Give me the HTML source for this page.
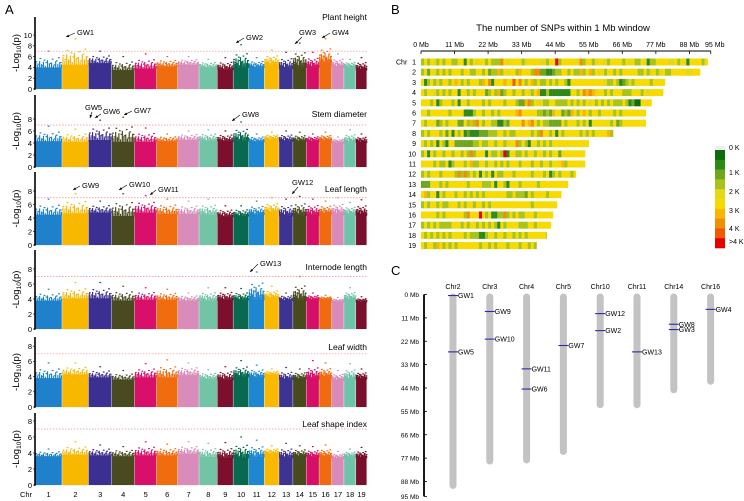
<!DOCTYPE html>
<html><head><meta charset="utf-8"><style>
html,body{margin:0;padding:0;background:#fff}
svg{display:block;font-family:"Liberation Sans",Arial,sans-serif}
</style></head><body>
<svg id="fig" width="744" height="501" viewBox="0 0 744 501" xmlns="http://www.w3.org/2000/svg">
<text x="5" y="14" font-size="13">A</text>
<text x="391" y="14" font-size="13">B</text>
<text x="391" y="275" font-size="13">C</text>
<text x="563" y="31" font-size="9.5" text-anchor="middle">The number of SNPs within 1 Mb window</text>
<g id="gA"></g>
<g id="gB"></g>
<g id="gC"></g>
</svg>
<script>
const NS="http://www.w3.org/2000/svg";
function mk(parent,tag,attrs,txt){const e=document.createElementNS(NS,tag);for(const k in attrs)e.setAttribute(k,attrs[k]);if(txt!==undefined)e.textContent=txt;parent.appendChild(e);return e;}

// ---------- shared data ----------
const chrNames=["1","2","3","4","5","6","7","8","9","10","11","12","13","14","15","16","17","18","19"];
const chrLen=[94,91.5,80,79.4,75.6,73.7,73.7,63,55,53.8,53.8,50.8,48.2,46,44.6,43.3,42.6,41.2,37.9];
const chrColors=["#1f80cc","#f8b800","#3b2f91","#494a1f","#d8106a","#f06c0e","#d98cb9","#72c4a7","#7c0f2c","#08694f","#1f86d0","#f8b900","#3c3392","#474a1c","#d50f67","#f06b10","#d98ab8","#70c3a8","#7a0f2b"];

// ---------- Panel A: Manhattan ----------
const traits=["Plant height","Stem diameter","Leaf length","Internode length","Leaf width","Leaf shape index"];
const baseVals=[
[4,4.5,4.8,3.5,3.8,4.2,4.5,4,3.6,4,4,4.5,3.8,4,4,4.6,4,4,3.5],
[4.3,4.2,4.5,4.2,4.2,4.3,4.5,4.4,4.3,4.4,4.2,4.6,4.3,4.3,4.3,4.4,4,4.1,4.1],
[4.5,4.7,4.8,4.3,4.8,4.6,4.6,4.5,4.2,4.3,4.5,4.8,4.3,4.4,4.4,4.6,4.5,4.5,4.4],
[3.8,4.1,4.1,3.8,3.9,3.9,3.8,3.8,3.9,3.9,3.9,4.1,3.8,3.8,3.9,3.9,3.6,3.9,3.6],
[3.8,4.3,3.9,3.6,3.9,3.9,4.2,3.7,3.6,4,3.9,4.2,3.6,3.7,3.7,3.9,3.5,3.6,3.7],
[3.6,3.8,3.7,3.6,3.7,3.7,3.9,3.5,3.4,3.4,3.5,3.9,3.4,3.6,3.5,3.5,3.3,3.5,3.4]];
const peakVals=[
[7,9.3,7,6,6.5,6,6,5.5,5.8,8.2,5.8,7.2,6.8,8.5,6.8,9.3,6.5,5.5,5.8],
[6.8,6.3,7.8,8.3,6.5,5.5,6,6.2,6,7.5,5.5,5.8,6,5.8,5.5,5.8,5,6.2,5.5],
[6.8,7.6,6.5,7.6,7.3,6.8,6.5,6.8,5.8,5.8,6.5,7,6.8,7.2,6.8,6.5,7,6.3,6.7],
[5.3,6.2,6.2,5.7,5.5,5.3,4.8,5.5,5.5,5.4,7.6,5.7,4.8,7,4.8,4.5,4.2,5.5,4.3],
[5.8,5.8,5.3,4.8,5.7,6.2,5.8,4.9,5.3,6.1,5.5,5,5.2,5,6.1,5.8,4.8,5.7,5],
[4.5,5.4,5,4.8,5.4,5.1,5.4,5.2,5.3,6,5.6,4.9,5.2,4.9,4.8,5,4.2,4.5,4.7]];
const yMaxTick=[10,8,8,8,8,8];
const threshold=7;
const panels=[{top:17,zero:89,s:5.4},{top:95,zero:167,s:6.0},{top:172,zero:245,s:6.75},{top:250,zero:329,s:7.5},{top:337,zero:407,s:7.6},{top:413,zero:485,s:8.0}];
const titleY=[20,117,192,270,350,427];
// annotation labels: [panel, text, textX, textY, arrowFromX, arrowFromY, arrowToX, arrowToY]
const gwNotes=[[0,"GW1",77,35,75,33,66,37],[0,"GW2",246,40,244,38,236,43],[0,"GW3",299,35,302,37,295,44],[0,"GW4",332,35,330,33,322,38],
[1,"GW5",85,110,92,112,90,118],[1,"GW6",103,114,101,114,95,118],[1,"GW7",134,113,132,111,124,115],[1,"GW8",242,117,240,115,232,121],
[2,"GW9",82,188,80,186,73,190],[2,"GW10",129,187,127,185,119,190],[2,"GW11",158,192,156,190,150,195],[2,"GW12",292,185,298,187,292,194],
[3,"GW13",260,266,258,264,250,272]];
const X0=35,X1=367;
const totLen=chrLen.reduce((a,b)=>a+b,0);
const chrStart=[];{let c=0;for(const l of chrLen){chrStart.push(c);c+=l;}}
function xA(mb){return X0+mb/totLen*(X1-X0);}
const dotF=[0.05,0.12,0.2,0.27,0.35,0.42,0.5,0.58,0.65,0.72,0.8,0.88,0.95];
const dotG=[0.35,0.2,0.55,0.1,0.45,0.3,1.0,0.25,0.5,0.15,0.4,0.6,0.3];
const spikeF=[0.03,0.1,0.17,0.24,0.31,0.38,0.46,0.53,0.61,0.68,0.76,0.84,0.91,0.97];
const spikeG=[0.3,0.15,0.4,0.2,0.35,0.1,0.45,0.25,0.3,0.12,0.38,0.2,0.33,0.18];
const gA=document.getElementById('gA');
panels.forEach((p,pi)=>{
  const y=v=>p.zero-v*p.s;
  const g=mk(gA,'g',{});
  
  
  chrLen.forEach((L,ci)=>{
    const xs=xA(chrStart[ci]),xe=xA(chrStart[ci]+L),w=xe-xs;
    const b=baseVals[pi][ci],pk=peakVals[pi][ci],col=chrColors[ci];
    const r=mk(g,'rect',{x:xs.toFixed(2),y:y(b).toFixed(2),width:(w-0.4).toFixed(2),height:(b*p.s).toFixed(2),fill:col});
    
    
    spikeF.forEach((f,k)=>{const v=b+(pk-b)*spikeG[k];
      mk(g,'rect',{x:(xs+f*w-0.6).toFixed(2),y:y(v).toFixed(2),width:1.2,height:((v-b)*p.s+0.5).toFixed(2),fill:col});});
    dotF.forEach((f,k)=>{const v=b+(pk-b)*dotG[k];
      const d=mk(g,'rect',{x:(xs+f*w-0.9).toFixed(2),y:(y(v)-0.6).toFixed(2),width:1.8,height:1.2,fill:col});
      
      });
  });
  const th=mk(g,'line',{x1:X0,x2:X1,y1:y(threshold),y2:y(threshold),stroke:"#f08a8a","stroke-width":0.7,"stroke-dasharray":"1.5,1.5"});
  
  
  const ax=mk(g,'line',{x1:X0,x2:X0,y1:p.top,y2:p.zero+1,stroke:"#000","stroke-width":1.6});
  
  
  mk(g,'line',{x1:X0,x2:X1,y1:p.zero+0.5,y2:p.zero+0.5,stroke:"#ddd","stroke-width":0.4});
  for(let t=0;t<=yMaxTick[pi];t+=2){
    mk(g,'line',{x1:X0-2,x2:X0,y1:y(t),y2:y(t),stroke:"#000","stroke-width":0.6});
    const tl=mk(g,'text',{x:X0-3,y:y(t)+2.8,"font-size":7.5,"text-anchor":"end"},String(t));
    
    
  }
  const cy=(p.top+p.zero)/2;
  const yl=mk(g,'text',{x:0,y:0,"font-size":9.5,"text-anchor":"middle",transform:`translate(19,${cy}) rotate(-90)`});
  
  
  yl.innerHTML='-Log<tspan font-size="6.5" dy="2">10</tspan><tspan dy="-2">(p)</tspan>';
  const tt=mk(g,'text',{x:X1,y:titleY[pi],"font-size":8.5,"text-anchor":"end"},traits[pi]);
  
  
});
gwNotes.forEach(n=>{
  const t=mk(gA,'text',{x:n[2],y:n[3],"font-size":7.5},n[1]);
  
  
  mk(gA,'line',{x1:n[4],y1:n[5],x2:n[6],y2:n[7],stroke:"#000","stroke-width":0.6});
  const dx=n[6]-n[4],dy=n[7]-n[5],l=Math.hypot(dx,dy),ux=dx/l,uy=dy/l;
  mk(gA,'polygon',{points:`${n[6]},${n[7]} ${n[6]-ux*3-uy*1.3},${n[7]-uy*3+ux*1.3} ${n[6]-ux*3+uy*1.3},${n[7]-uy*3-ux*1.3}`,fill:"#000"});
});
const cl=mk(gA,'text',{x:20,y:497,"font-size":7.5},"Chr");


chrNames.forEach((c,ci)=>{
  const t=mk(gA,'text',{x:xA(chrStart[ci]+chrLen[ci]/2),y:497,"font-size":7.5,"text-anchor":"middle"},c);
  
  
});

// ---------- Panel B: SNP density heatmap ----------
const densityLevels=[
"3535435355 3355153545 5353337545 5553455554 4355935555 5473553455 4355553545 3354133555 5445354155 5535",
"3525435353 5553553355 3523363545 5365553772 2112335535 3363563545 3553535555 5335345345 3355555445 5",
"5135343553 5653535553 6571555655 8575356353 3535355315 5555555555 4335312343 5555535",
"5355435353 5515535355 5235362355 3553543561 1311111115 5357676455 3535553335 5535455",
"5553513555 3515535555 3535555355 5322673544 3355333353 5353545353 5353335312 00",
"5535555553 5555111355 3553535555 5675555533 2326552326 5356535535 5553535",
"5355523535 5522536375 3553311325 5557567535 3322225355 5353515555 5535235",
"3535553525 1535121112 2233355353 3555553537 5535153555 5535353555 563",
"5353515315 5222222335 3355355345 5735315535 3535555555 55555",
"3515355355 3553537355 5153353915 5335355355 3535525555 5555",
"5555353351 3555356335 5355353535 5535553553 5535556355 5555",
"3535553555 5373735351 5351533555 3555553555 3513535553 5",
"2225553535 5555535555 3335155315 5535555535 5555555",
"5635515355 5355353535 3555555533 5333253555 5355553",
"3535535335 5535355355 3535555555 5555553555 55555",
"5555535355 5555375559 5351133735 3533555355 555",
"3535353333 5553535535 3535315355 5533355355 555",
"5353535353 5555353331 1355355355 3535355555 53",
"5355365353 5355555553 5535355535 5535535355"];
const levelColors=["#0d6a10","#2e8a18","#6fa61e","#a8c41a","#e4d817","#f7da00","#f7b600","#f28c00","#ef5a00","#e80000"];
const legendLabels=["0 K","1 K","2 K","3 K","4 K",">4 K"];
const bX0=421,bPx=3.05,rowY0=58.5,rowStep=10.2,rowH=7;
const gB=document.getElementById('gB');
const xB=mb=>bX0+mb*bPx;
const axB=mk(gB,'line',{x1:xB(0),x2:xB(95),y1:51,y2:51,stroke:"#000","stroke-width":1});


[0,11,22,33,44,55,66,77,88,95].forEach(t=>{
  mk(gB,'line',{x1:xB(t),x2:xB(t),y1:51,y2:54,stroke:"#000","stroke-width":0.8});
  const tl=mk(gB,'text',{x:xB(t)+(t===95?4:0),y:47,"font-size":7,"text-anchor":"middle"},t+" Mb");
  
  
});
chrNames.forEach((c,ci)=>{
  const row=mk(gB,'g',{});
  
  
  const y=rowY0+ci*rowStep;
  const s=densityLevels[ci].replace(/ /g,'');
  const n=Math.ceil(chrLen[ci]);
  for(let i=0;i<n;i++){
    const lv=i<s.length?+s[i]:5;
    const w=Math.min(1,chrLen[ci]-i);
    mk(row,'rect',{x:xB(i).toFixed(2),y:y,width:(w*bPx+0.2).toFixed(2),height:rowH,fill:levelColors[lv]});
  }
  const lb=mk(gB,'text',{x:416,y:y+6,"font-size":7,"text-anchor":"end"},c);
  
  
});
mk(gB,'text',{x:396,y:64.5,"font-size":7},"Chr");
// legend colorbar
const lgX=715,lgW=10,lgTop=150,lgBot=248;
mk(gB,'rect',{x:lgX,y:146,width:lgW,height:4,fill:"#eeeeee"});
const nL=levelColors.length,segH=(lgBot-lgTop)/nL;
levelColors.forEach((c,i)=>{
  const r=mk(gB,'rect',{x:lgX,y:(lgTop+i*segH).toFixed(2),width:lgW,height:(segH+0.3).toFixed(2),fill:c});
  
  
});
const legendY=[150,175,194,213,231,244];
legendLabels.forEach((t,i)=>{
  const e=mk(gB,'text',{x:729,y:legendY[i],"font-size":7},t);
  
  
});

// ---------- Panel C: chromosome map ----------
const mapChrs=["Chr2","Chr3","Chr4","Chr5","Chr10","Chr11","Chr14","Chr16"];
const mapLens=[91.5,80,79.5,75.5,53.5,53.5,46.5,42.5];
const lociChr=[0,0,1,1,2,2,3,4,4,5,6,6,7];
const lociMb=[0.5,27,8,21,35,44.5,24,9,17,27,14,16.5,7];
const lociNames=["GW1","GW5","GW9","GW10","GW11","GW6","GW7","GW12","GW2","GW13","GW8","GW3","GW4"];
const cTicks=[0,11,22,33,44,55,66,77,88,95];
const cY0=294.5,cPx=2.125,colX0=453,colStep=36.8;
const yC=mb=>cY0+mb*cPx;
const gC=document.getElementById('gC');
const axC=mk(gC,'line',{x1:424,x2:424,y1:yC(0),y2:yC(95),stroke:"#000","stroke-width":1.8});


cTicks.forEach(t=>{
  mk(gC,'line',{x1:424,x2:427,y1:yC(t),y2:yC(t),stroke:"#000","stroke-width":0.8});
  const e=mk(gC,'text',{x:419,y:yC(t)+2.5,"font-size":6.5,"text-anchor":"end"},t+" Mb");
  
  
});
mapChrs.forEach((c,i)=>{
  const x=colX0+i*colStep;
  const r=mk(gC,'rect',{x:x-3.5,y:yC(0)-1,width:7,height:(mapLens[i]*cPx+1).toFixed(2),rx:3.5,fill:"#c3c3c3"});
  
  
  const t=mk(gC,'text',{x:x,y:289,"font-size":7,"text-anchor":"middle"},c);
  
  
});
lociNames.forEach((n,i)=>{
  const x=colX0+lociChr[i]*colStep,y=yC(lociMb[i]);
  const l=mk(gC,'line',{x1:x-5,x2:x+5,y1:y,y2:y,stroke:"#2a2aa8","stroke-width":1.1});
  
  
  const t=mk(gC,'text',{x:x+5,y:y+2.5,"font-size":7},n);
  
  
});
</script>
</body></html>
